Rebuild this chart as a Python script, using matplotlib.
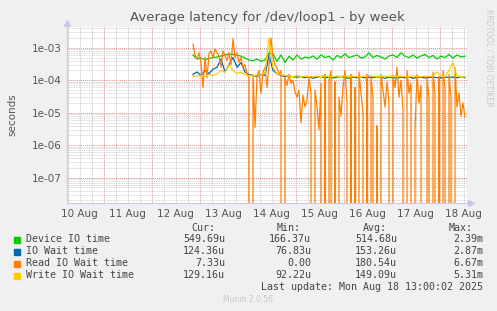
import numpy as np
import matplotlib
matplotlib.use("Agg")
import matplotlib.pyplot as plt
from matplotlib.patches import Rectangle

# ventana de una semana (horas desde 10 Aug 00:00)
x_start = 5.65
x_end = 205.65
t0 = 68.65  # primer punto con datos

# valores en microsegundos, paso de 2 horas
device_io = [600, 450, 480, 430, 470, 500, 520, 560, 600, 650, 620, 600, 550, 480, 420, 400,
             450, 380, 420, 700, 650, 380, 600, 350, 550, 420, 600, 450, 520, 480, 560, 450,
             600, 500, 550, 420, 580, 500, 650, 500, 550, 600, 480, 520, 700, 500, 580, 520,
             450, 560, 600, 500, 700, 550, 500, 600, 480, 560, 620, 500, 580, 450, 550, 500,
             620, 480, 600, 520, 550]
io_wait = [150, 180, 140, 200, 160, 220, 250, 450, 180, 300, 500, 250, 350, 180, 150, 140,
           130, 150, 140, 600, 200, 160, 140, 130, 135, 128, 125, 130, 120, 128, 115, 125,
           130, 120, 125, 118, 125, 130, 122, 115, 125, 120, 128, 118, 125, 120, 128, 122,
           115, 125, 120, 118, 125, 120, 128, 115, 122, 125, 118, 122, 125, 120, 118, 125,
           122, 125, 120, 128, 124]
write_wait = [130, 135, 140, 130, 150, 140, 160, 200, 180, 300, 200, 160, 180, 150, 140, 135,
              150, 140, 180, 2000, 250, 160, 150, 140, 135, 130, 140, 130, 135, 130, 128, 135,
              130, 140, 130, 128, 135, 130, 140, 130, 135, 128, 130, 135, 140, 130, 132, 128,
              135, 130, 140, 130, 135, 128, 130, 135, 130, 128, 135, 130, 140, 180, 135, 130,
              200, 350, 135, 130, 129]

# paso de 1 hora
read_wait = [1300, 600, 450, 700, 350, 60, 500, 120, 650, 800, 500, 900, 700, 550, 250, 800,
             600, 400, 700, 300, 1900, 500, 700, 350, 500, 250, 300, 150, 120, 0, 150, 3.5,
             130, 200, 40, 180, 250, 60, 300, 2000, 500, 300, 250, 150, 200, 0, 120, 70,
             150, 80, 100, 45, 30, 50, 5, 35, 15, 25, 120, 40, 0, 50, 15, 3, 80, 0,
             150, 0, 100, 200, 0, 90, 0, 30, 8, 60, 200, 20, 0, 150, 0, 60,
             0, 180, 40, 10, 0, 150, 0, 120, 30, 0, 4, 0, 150, 50, 15, 90,
             20, 0, 130, 60, 250, 30, 100, 12, 0, 200, 40, 80, 0, 3, 150, 20,
             70, 0, 0, 110, 25, 0, 180, 40, 0, 130, 0, 200, 60, 0, 150, 30,
             0, 250, 15, 40, 8, 20, 7.33]

dias = ['10 Aug', '11 Aug', '12 Aug', '13 Aug', '14 Aug', '15 Aug', '16 Aug', '17 Aug', '18 Aug']

series = [
    ('Device IO time', device_io, 2, '#00CC00', '549.69u', '166.37u', '514.68u', '2.39m'),
    ('IO Wait time', io_wait, 2, '#0066B3', '124.36u', '76.83u', '153.26u', '2.87m'),
    ('Read IO Wait time', read_wait, 1, '#FF8000', '7.33u', '0.00', '180.54u', '6.67m'),
    ('Write IO Wait time', write_wait, 2, '#FFCC00', '129.16u', '92.22u', '149.09u', '5.31m'),
]

W, H = 497, 311
fig = plt.figure(figsize=(W / 100, H / 100), dpi=100, facecolor='#F0F0F0')
ax = fig.add_axes([67 / W, 1 - 203 / H, 400 / W, 176 / H])
ax.set_facecolor('white')
ax.set_yscale('log', nonpositive='clip')
ax.set_xlim(x_start, x_end)
ax.set_ylim(10 ** -7.78, 10 ** -2.36)

# rejilla estilo rrdtool
dot = (0, (1, 1))
for h in np.arange(6, x_end, 6):
    if h % 24 == 0:
        ax.axvline(h, color='#E09090', lw=0.7, ls=dot, zorder=1)
    else:
        ax.axvline(h, color='#C4C4C4', lw=0.7, ls=dot, zorder=1)
for d in range(-8, -1):
    ax.axhline(10.0 ** d, color='#E09090', lw=0.7, ls=dot, zorder=1)
    for m in range(2, 10):
        ax.axhline(m * 10.0 ** d, color='#C8C8C8', lw=0.6, ls=dot, zorder=1)

for nombre, vals, paso, color, *_ in series:
    t = t0 + paso * np.arange(len(vals))
    ax.plot(t, np.array(vals) * 1e-6, color=color, lw=0.9, zorder=3)

ax.set_yticks([1e-7, 1e-6, 1e-5, 1e-4, 1e-3])
ax.set_yticklabels(['1e-07', '1e-06', '1e-05', '1e-04', '1e-03'])
ax.yaxis.set_minor_locator(matplotlib.ticker.NullLocator())
ax.set_xticks([12 + 24 * i for i in range(len(dias))])
ax.set_xticklabels(dias)
ax.tick_params(axis='both', length=0, labelsize=7.5, labelcolor='#555555', pad=4)
ax.set_ylabel('seconds', fontsize=7.5, color='#555555', labelpad=10)

for s in ['top', 'right']:
    ax.spines[s].set_visible(False)
for s in ['left', 'bottom']:
    ax.spines[s].set_color('#C8C8E8')
    ax.spines[s].set_linewidth(0.8)
ax.plot([0], [1.02], marker='^', color='#C8C8E8', ms=4, transform=ax.transAxes, clip_on=False)
ax.plot([1.01], [0], marker='>', color='#C8C8E8', ms=4, transform=ax.transAxes, clip_on=False)

fig.text(267 / W, 1 - 17 / H, 'Average latency for /dev/loop1 - by week',
         ha='center', va='center', fontsize=9.5, color='#555555')
fig.text(489 / W, 1 - 58 / H, 'RRDTOOL / TOBI OETIKER', rotation=270,
         ha='center', va='center', fontsize=5.5, color='#C8C8C8')

# leyenda
mono = dict(family='DejaVu Sans Mono', fontsize=7.2, color='#444444', va='center')
cols = [225, 311, 397, 483]
for x, lab in zip(cols, ['Cur:', 'Min:', 'Avg:', 'Max:']):
    fig.text((x - 10) / W, 1 - 228 / H, lab, ha='right', **mono)
for i, (nombre, vals, paso, color, cur, mn, avg, mx) in enumerate(series):
    y = 239.5 + 12 * i
    fig.patches.append(Rectangle((14 / W, 1 - (y + 3) / H), 6 / W, 6 / H,
                                 transform=fig.transFigure, color=color))
    fig.text(26 / W, 1 - y / H, nombre, ha='left', **mono)
    for x, v in zip(cols, [cur, mn, avg, mx]):
        fig.text(x / W, 1 - y / H, v, ha='right', **mono)
fig.text(483 / W, 1 - 287 / H, 'Last update: Mon Aug 18 13:00:02 2025', ha='right', **mono)
fig.text(248 / W, 1 - 300 / H, 'Munin 2.0.56', ha='center', va='center',
         fontsize=5.5, color='#C8C8C8')

fig.savefig('out.png', dpi=100, facecolor=fig.get_facecolor())
